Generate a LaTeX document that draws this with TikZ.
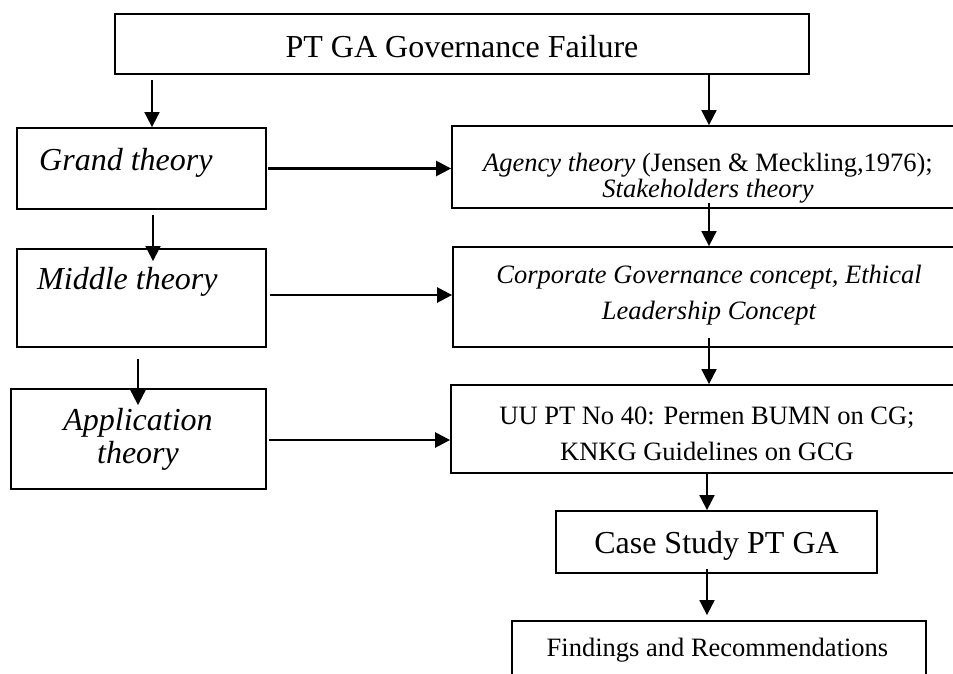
\documentclass[tikz,border=0pt]{standalone}
\usepackage{fontspec}
\setmainfont{Liberation Serif}
\usetikzlibrary{arrows.meta,calc}
\begin{document}
\begin{tikzpicture}[x=1pt,y=-1pt,
  box/.style={draw, line width=1.8pt, rectangle, inner sep=0pt},
  varr/.style={line width=1.8pt, -{Triangle[length=15pt,width=15pt]}},
  harr/.style={line width=2.5pt, -{Triangle[length=15pt,width=15pt]}},
  bigtxt/.style={font=\fontsize{32}{36}\selectfont, inner sep=0pt},
  midtxt/.style={font=\fontsize{26.5}{30}\selectfont, inner sep=0pt}
]
\useasboundingbox (0,0) rectangle (953,673);
\clip (0,0) rectangle (953,673);
\fill[white] (0,0) rectangle (953,673);

% boxes
\node[box, minimum width=694pt, minimum height=60pt] (top) at (462,44) {};
\node[box, minimum width=249pt, minimum height=81pt] (grand) at (141.5,168.5) {};
\node[box, minimum width=249pt, minimum height=98pt] (middle) at (141.5,298) {};
\node[box, minimum width=255pt, minimum height=100pt] (app) at (138.5,439) {};
\node[box, minimum width=513pt, minimum height=82pt] (agency) at (708.5,167) {};
\node[box, minimum width=512pt, minimum height=100pt] (corp) at (709,297) {};
\node[box, minimum width=514pt, minimum height=88pt] (uu) at (708,429) {};
\node[box, minimum width=321pt, minimum height=62pt] (case) at (716.5,542) {};
\node[box, minimum width=414pt, minimum height=79pt] (find) at (719,660.5) {};

% texts
\node[bigtxt, anchor=base] (ttop) at (462,57) {PT GA Governance Failure};
\node[bigtxt, anchor=base west] (tgrand) at (39,170) {\itshape Grand theory};
\node[bigtxt, anchor=base west] (tmiddle) at (37,289) {\itshape Middle theory};
\node[bigtxt, anchor=base] (tapp1) at (138,430) {\itshape Application};
\node[bigtxt, anchor=base] (tapp2) at (138,463) {\itshape theory};
\node[midtxt, anchor=base] (tag1) at (708,171) {\textit{Agency theory} (Jensen \& Meckling,1976);};
\node[midtxt, anchor=base] (tag2) at (708,197) {\textit{Stakeholders theory}};
\node[midtxt, anchor=base] (tcorp1) at (709,283) {\itshape Corporate Governance concept, Ethical};
\node[midtxt, anchor=base] (tcorp2) at (709,319) {\itshape Leadership Concept};
\node[midtxt, anchor=base] (tuu1) at (707,424) {UU PT No 40: Permen BUMN on CG;};
\node[midtxt, anchor=base] (tuu2) at (707,460) {KNKG Guidelines on GCG};
\node[bigtxt, anchor=base] (tcase) at (716.5,553) {Case Study PT GA};
\node[midtxt, anchor=base] (tfind) at (717.5,656) {Findings and Recommendations};

% x positions of the vertical connectors
\coordinate (xa) at (152,0);
\coordinate (xb) at (153,0);
\coordinate (xc) at (138,0);
\coordinate (xr) at (709,0);
\coordinate (xs) at (707,0);

% vertical arrows, left column
\draw[varr] ($(top.south -| xa)+(0,5)$) -- (grand.north -| xa);
\draw[varr] ($(grand.south -| xb)+(0,5)$) -- ($(middle.north -| xb)+(0,13)$);
\draw[varr] ($(middle.south -| xc)+(0,11)$) -- ($(app.north -| xc)+(0,17)$);

% vertical arrows, right column
\draw[varr] (top.south -| xr) -- (agency.north -| xr);
\draw[varr] ($(agency.south -| xr)+(0,-6)$) -- (corp.north -| xr);
\draw[varr] ($(corp.south -| xr)+(0,-10)$) -- (uu.north -| xr);
\draw[varr] (uu.south -| xs) -- (case.north -| xs);
\draw[varr] ($(case.south -| xs)+(0,-5)$) -- ($(find.north -| xs)+(0,-5)$);

% horizontal arrows
\draw[harr] ([xshift=1pt]grand.east) -- (grand.east -| agency.west);
\draw[harr] ([xshift=3pt,yshift=3pt]middle.east) -- ([yshift=3pt]middle.east -| corp.west);
\draw[harr] ([xshift=2pt,yshift=-1pt]app.east) -- ([yshift=-1pt]app.east -| uu.west);
\end{tikzpicture}
\end{document}
